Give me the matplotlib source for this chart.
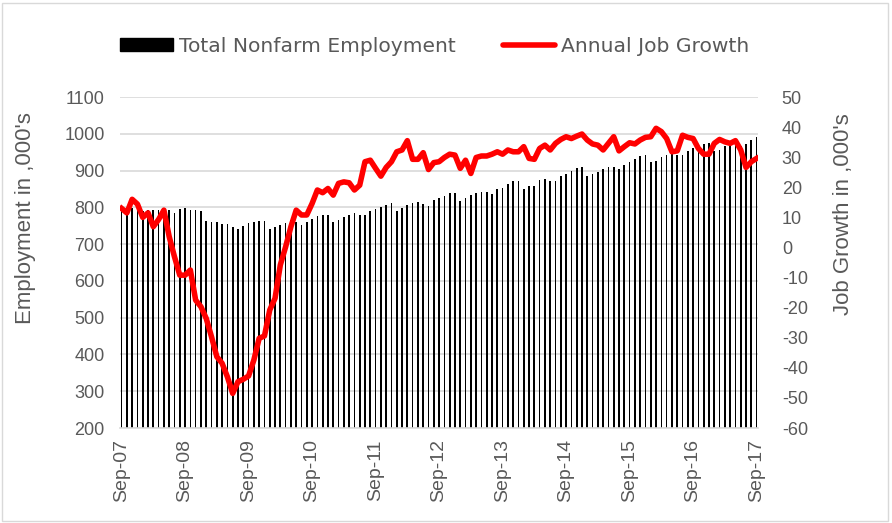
import matplotlib
matplotlib.use("Agg")
import matplotlib.pyplot as plt
from matplotlib.patches import Patch, Rectangle
from matplotlib.lines import Line2D

plt.rcParams['font.family'] = ['Liberation Sans', 'DejaVu Sans']
plt.rcParams['axes.unicode_minus'] = False

# monthly, Sep-07 .. Sep-17
employment = [
    798, 795, 798, 794, 789, 792, 794, 794, 796, 794, 785, 796,   # Sep07-Aug08
    798, 794, 794, 789, 762, 759, 759, 756, 756, 746, 742, 748,   # Sep08-Aug09
    757, 759, 762, 762, 742, 746, 751, 757, 765, 759, 753, 759,   # Sep09-Aug10
    768, 776, 778, 780, 759, 766, 774, 780, 785, 780, 780, 791,   # Sep10-Aug11
    796, 801, 807, 812, 791, 798, 807, 812, 815, 810, 805, 819,   # Sep11-Aug12
    825, 830, 839, 839, 818, 825, 833, 839, 843, 841, 836, 850,   # Sep12-Aug13
    853, 863, 871, 871, 850, 857, 859, 875, 878, 871, 871, 884,   # Sep13-Aug14
    891, 898, 907, 909, 884, 891, 895, 904, 911, 909, 905, 916,   # Sep14-Aug15
    922, 931, 940, 943, 922, 927, 936, 943, 946, 943, 943, 952,   # Sep15-Aug16
    961, 966, 972, 975, 952, 957, 966, 970, 975, 966, 972, 982,   # Sep16-Aug17
    990,                                                          # Sep17
]

job_growth = [
    13.0, 11.5, 16.0, 14.4, 10.0, 11.5, 6.9, 9.3, 12.4, 3.6, -3.1, -9.2,
    -9.2, -7.5, -17.5, -19.7, -23.6, -29.7, -36.3, -38.5, -43.0, -48.5, -44.6, -43.8,
    -42.7, -37.4, -30.2, -29.4, -20.8, -16.9, -5.8, 0.2, 6.9, 12.4, 10.8, 10.8,
    14.6, 19.1, 18.2, 19.6, 17.4, 21.3, 21.8, 21.5, 19.1, 20.7, 28.5, 29.0,
    26.3, 23.7, 26.6, 28.5, 31.8, 32.4, 35.5, 29.3, 29.3, 31.5, 25.9, 28.2,
    28.5, 29.9, 31.0, 30.7, 26.3, 29.0, 24.6, 29.9, 30.4, 30.4, 31.0, 31.8,
    31.0, 32.4, 31.8, 31.8, 33.5, 29.6, 29.3, 32.9, 34.0, 32.4, 34.6, 35.9,
    36.8, 36.2, 37.0, 37.7, 35.7, 34.4, 34.0, 32.4, 34.6, 36.8, 32.1, 33.5,
    34.8, 34.4, 35.7, 36.6, 36.8, 39.6, 38.5, 36.2, 31.8, 32.1, 37.3, 36.6,
    36.2, 32.9, 31.0, 31.0, 34.6, 35.9, 35.1, 34.6, 35.5, 32.4, 26.6, 28.5,
    29.6,
]

tick_labels = ['Sep-07', 'Sep-08', 'Sep-09', 'Sep-10', 'Sep-11', 'Sep-12',
               'Sep-13', 'Sep-14', 'Sep-15', 'Sep-16', 'Sep-17']

txt = '#595959'
grid_c = '#d9d9d9'

fig = plt.figure(figsize=(8.92, 5.23), dpi=100)
ax = fig.add_axes([0.1345, 0.1816, 0.7155, 0.6329])
ax2 = ax.twinx()

x = list(range(len(employment)))
ax.bar(x, [v - 200 for v in employment], bottom=200, width=0.32, color='black', zorder=2)
ax2.plot(x, job_growth, color='#ff0000', lw=4, solid_joinstyle='round', zorder=3)

ax.set_ylim(200, 1100)
ax.set_yticks(range(200, 1101, 100))
ax2.set_ylim(-60, 50)
ax2.set_yticks(range(-60, 51, 10))
ax.set_xlim(-0.3, 120.3)
ax.set_xticks(range(0, 121, 12))
ax.set_xticklabels(tick_labels, rotation=90)

ax.yaxis.grid(True, color=grid_c, lw=1.2, zorder=0)
ax.set_axisbelow(True)
for a in (ax, ax2):
    for s in a.spines.values():
        s.set_visible(False)
ax.spines['bottom'].set_visible(True)
ax.spines['bottom'].set_color(grid_c)
ax.spines['bottom'].set_linewidth(1.2)

ax.tick_params(axis='both', length=0, labelsize=13, labelcolor=txt)
ax.tick_params(axis='y', pad=11)
ax.tick_params(axis='x', pad=8, labelsize=14)
ax2.tick_params(axis='y', length=0, labelsize=13, labelcolor=txt, pad=17)

ax.set_ylabel("Employment in ,000's", fontsize=16, color=txt)
ax2.set_ylabel("Job Growth in ,000's", fontsize=16, color=txt)
ax.yaxis.set_label_coords(-0.131, 0.634)
ax2.yaxis.set_label_coords(1.1176, 0.645)

handles = [Patch(facecolor='black', edgecolor='black'),
           Line2D([0], [0], color='#ff0000', lw=4, solid_capstyle='round')]
fig.legend(handles, ['Total Nonfarm Employment', 'Annual Job Growth'],
           loc='center', bbox_to_anchor=(0.4877, 0.912), ncol=2, frameon=False,
           prop={'family': 'DejaVu Sans', 'size': 14.6}, labelcolor=txt,
           handlelength=2.6, handleheight=0.64, handletextpad=0.3,
           columnspacing=2.3)

fig.patches.append(Rectangle((0.002, 0.004), 0.994, 0.99, transform=fig.transFigure,
                             fill=False, edgecolor='#d9d9d9', lw=1))

fig.savefig('out.png', dpi=100)
